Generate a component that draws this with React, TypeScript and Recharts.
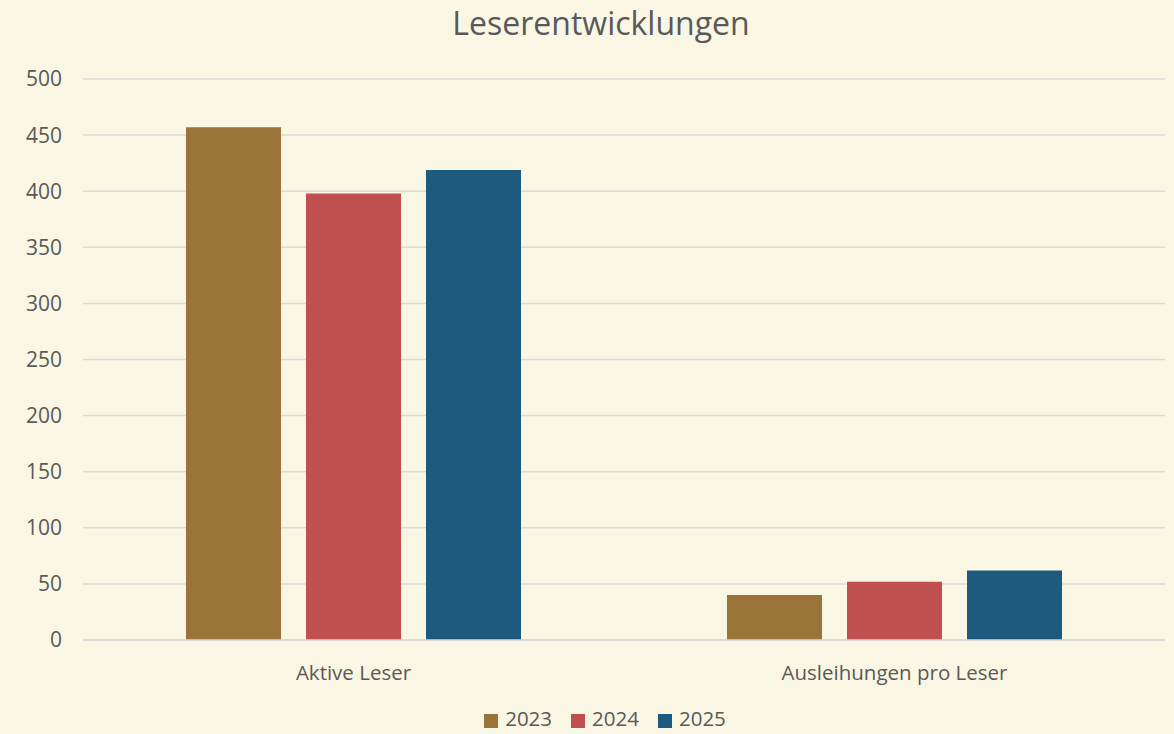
import React from 'react';
import { BarChart, Bar, XAxis, YAxis, CartesianGrid, Legend } from 'recharts';

const categories = ['Aktive Leser', 'Ausleihungen pro Leser'];
const values2023 = [457, 40];
const values2024 = [398, 52];
const values2025 = [419, 62];
const yTicks = [0, 50, 100, 150, 200, 250, 300, 350, 400, 450, 500];

const COLORS = { y2023: '#9A7339', y2024: '#C0504F', y2025: '#1E5A7D' };
const FONT = '"Open Sans", "Noto Sans", sans-serif';

const data = categories.map((name, i) => ({
  name,
  y2023: values2023[i],
  y2024: values2024[i],
  y2025: values2025[i],
}));

const App: React.FC = () => {
  return (
    <div
      style={{
        position: 'absolute',
        top: 0,
        left: 0,
        width: 1174,
        height: 734,
        background: '#FAF6E4',
        fontFamily: FONT,
        overflow: 'hidden',
      }}
    >
      <div
        style={{
          position: 'absolute',
          top: 1,
          left: 0,
          width: 1202,
          textAlign: 'center',
          fontSize: 32,
          color: '#595959',
        }}
      >
        Leserentwicklungen
      </div>
      <BarChart
        width={1174}
        height={734}
        data={data}
        margin={{ top: 79, right: 9, bottom: 0, left: 0 }}
        barGap={25}
        barCategoryGap={103}
      >
        <CartesianGrid vertical={false} stroke="#D9D9D9" strokeWidth={1.5} />
        <XAxis
          dataKey="name"
          height={50}
          tickLine={false}
          axisLine={{ stroke: '#D9D9D9', strokeWidth: 1.5 }}
          tickMargin={19}
          tick={{ fill: '#595959', fontSize: 20.5, fontFamily: FONT }}
        />
        <YAxis
          width={83}
          domain={[0, 500]}
          ticks={yTicks}
          tickLine={false}
          axisLine={false}
          tickSize={0}
          tickMargin={21}
          tick={{ fill: '#595959', fontSize: 21, fontFamily: FONT }}
        />
        <Legend
          verticalAlign="bottom"
          height={44}
          iconType="square"
          iconSize={14}
          wrapperStyle={{ fontSize: 20.5, fontFamily: FONT, top: 705, bottom: 'auto', left: 32, lineHeight: '26px' }}
          formatter={(value) => (
            <span style={{ color: '#595959', marginLeft: 3, marginRight: 9 }}>{value}</span>
          )}
        />
        <Bar dataKey="y2023" name="2023" fill={COLORS.y2023} isAnimationActive={false} />
        <Bar dataKey="y2024" name="2024" fill={COLORS.y2024} isAnimationActive={false} />
        <Bar dataKey="y2025" name="2025" fill={COLORS.y2025} isAnimationActive={false} />
      </BarChart>
    </div>
  );
};

export default App;
